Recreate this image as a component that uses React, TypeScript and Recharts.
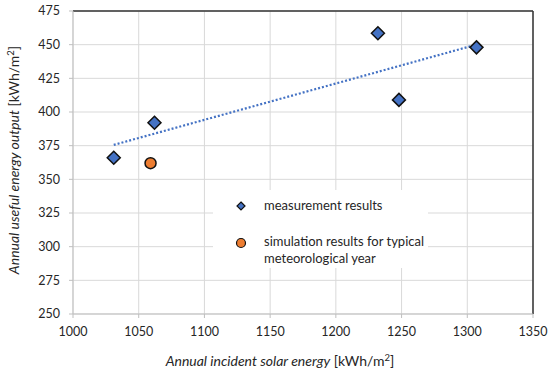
import React from 'react';
import { ScatterChart, Scatter, XAxis, YAxis, CartesianGrid, ReferenceLine, Legend } from 'recharts';

const measuredX = [1031, 1062, 1232, 1248, 1307];
const measuredY = [366, 392, 458.5, 409, 448];
const simulatedX = [1059];
const simulatedY = [362];
const xTicks = [1000, 1050, 1100, 1150, 1200, 1250, 1300, 1350];
const yTicks = [250, 275, 300, 325, 350, 375, 400, 425, 450, 475];

const measured = measuredX.map((x, i) => ({ x, y: measuredY[i] }));
const simulated = simulatedX.map((x, i) => ({ x, y: simulatedY[i] }));

// linear trend line (least squares) over measured points
const n = measuredX.length;
const mx = measuredX.reduce((a, b) => a + b, 0) / n;
const my = measuredY.reduce((a, b) => a + b, 0) / n;
let sxy = 0, sxx = 0;
for (let i = 0; i < n; i++) { sxy += (measuredX[i] - mx) * (measuredY[i] - my); sxx += (measuredX[i] - mx) ** 2; }
const slope = sxy / sxx;
const x0 = Math.min(...measuredX);
const x1 = Math.max(...measuredX);
const trend = [{ x: x0, y: my + slope * (x0 - mx) }, { x: x1, y: my + slope * (x1 - mx) }];

const FONT = 'Lato, "Open Sans", sans-serif';
const BLUE = '#4472C4';
const ORANGE = '#ED7D31';
const TXT = '#262626';

const Diamond = (props: any) => {
  const { cx, cy } = props;
  const r = 6.5;
  return <polygon points={`${cx},${cy - r} ${cx + r},${cy} ${cx},${cy + r} ${cx - r},${cy}`} fill={BLUE} stroke="#111" strokeWidth={1.5} />;
};
const Circle = (props: any) => {
  const { cx, cy } = props;
  return <circle cx={cx} cy={cy} r={5.5} fill={ORANGE} stroke="#111" strokeWidth={1.5} />;
};
const Empty = () => <g />;

const LegendBox = () => (
  <div style={{ background: '#fff', width: 215, height: 78, fontFamily: FONT, fontSize: 13, color: TXT, position: 'relative' }}>
    <svg width={20} height={20} style={{ position: 'absolute', left: 18, top: 6 }}>
      <polygon points="10,6 14,10 10,14 6,10" fill={BLUE} stroke="#111" strokeWidth={1.2} />
    </svg>
    <div style={{ position: 'absolute', left: 51, top: 7 }}>measurement results</div>
    <svg width={20} height={20} style={{ position: 'absolute', left: 18, top: 43 }}>
      <circle cx={10} cy={10} r={4.5} fill={ORANGE} stroke="#111" strokeWidth={1.2} />
    </svg>
    <div style={{ position: 'absolute', left: 51, top: 43, lineHeight: '17px' }}>simulation results for typical<br />meteorological year</div>
  </div>
);

export default function App() {
  return (
    <div style={{ position: 'absolute', left: 0, top: 0, width: 550, height: 368, background: '#fff' }}>
      <ScatterChart width={550} height={368} margin={{ top: 11, right: 17, bottom: 0, left: 0 }}>
        <CartesianGrid stroke="#d9d9d9" strokeWidth={1} />
        <XAxis
          type="number" dataKey="x" domain={[1000, 1350]} ticks={xTicks} height={54}
          tick={{ fontFamily: FONT, fontSize: 12.5, fill: TXT }} tickSize={4} tickMargin={9}
          stroke="#bfbfbf"
          label={{
            content: () => (
              <text x={280} y={366} textAnchor="middle" fontFamily={FONT} fontSize={14} fill={TXT}>
                <tspan fontStyle="italic">Annual incident solar energy</tspan>
                <tspan> [kWh/m</tspan><tspan dy={-5} fontSize={9.5}>2</tspan><tspan dy={5}>]</tspan>
              </text>
            ),
          }}
        />
        <YAxis
          type="number" dataKey="y" domain={[250, 475]} ticks={yTicks} width={73}
          tick={{ fontFamily: FONT, fontSize: 12.5, fill: TXT }} tickSize={4} tickMargin={9}
          stroke="#bfbfbf"
          label={{
            content: () => (
              <text x={19} y={160} textAnchor="middle" fontFamily={FONT} fontSize={14} fill={TXT} transform="rotate(-90 19 160)">
                <tspan fontStyle="italic">Annual useful energy output</tspan>
                <tspan> [kWh/m</tspan><tspan dy={-5} fontSize={9.5}>2</tspan><tspan dy={5}>]</tspan>
              </text>
            ),
          }}
        />
        <ReferenceLine y={475} stroke="#333" strokeWidth={1.5} />
        <ReferenceLine x={1350} stroke="#333" strokeWidth={1.5} />
        <Scatter data={trend} isAnimationActive={false} shape={Empty} line={{ stroke: BLUE, strokeWidth: 2.2, strokeDasharray: '2 2' }} legendType="none" />
        <Scatter data={measured} isAnimationActive={false} shape={Diamond} />
        <Scatter data={simulated} isAnimationActive={false} shape={Circle} />
        <Legend layout="vertical" align="center" verticalAlign="middle" content={LegendBox}
          wrapperStyle={{ position: 'absolute', left: 213, top: 190, width: 215, height: 78 }} />
      </ScatterChart>
    </div>
  );
}
